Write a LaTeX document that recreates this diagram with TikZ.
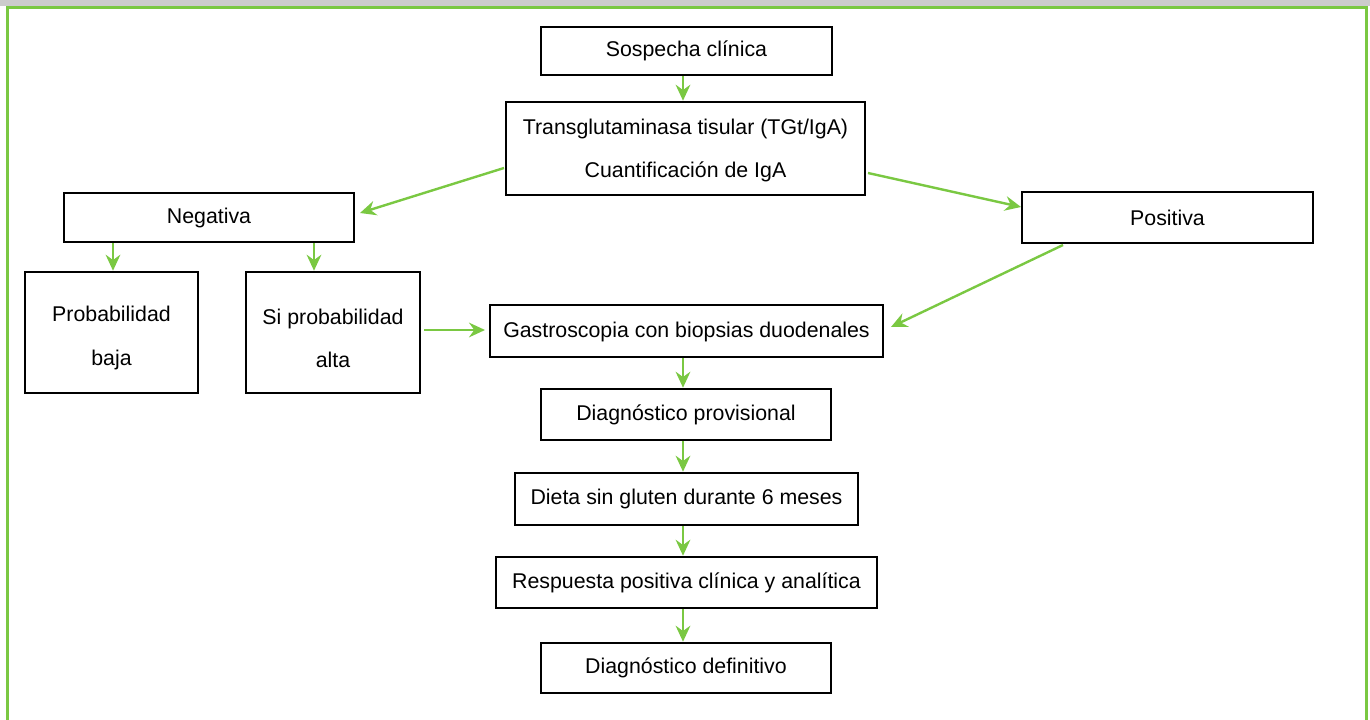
\documentclass[tikz,border=0pt]{standalone}
\usepackage{fontspec}
\setmainfont{Liberation Sans}
\usetikzlibrary{arrows.meta}
\definecolor{grn}{RGB}{122,200,66}
\definecolor{band}{RGB}{204,204,204}
\tikzset{
  box/.style={draw=black, line width=1.9pt, fill=white, align=center, inner sep=0pt, font=\fontsize{16}{32.5}\selectfont},
  arr/.style={draw=grn, line width=1.8pt, -{Stealth[length=12pt,width=11pt,inset=4pt]}},
}
\newcommand{\dropstrut}[1]{\rule{0pt}{#1}}
\begin{document}
\begin{tikzpicture}[x=0.75pt,y=-0.75pt]
\useasboundingbox (0,0) rectangle (1370,720);
\fill[band] (0,0) rectangle (1370,6);
\draw[grn, line width=2.2pt] (7.5,760) -- (7.5,7.5) -- (1366.5,7.5) -- (1366.5,760);
% boxes
\node[box, minimum width=291*0.75pt, minimum height=48*0.75pt] (sos) at (686.5,51) {Sospecha clínica};
\node[box, minimum width=359*0.75pt, minimum height=93*0.75pt] (tg) at (685.5,148.5) {\dropstrut{15pt}Transglutaminasa tisular (TGt/IgA)\\Cuantificación de IgA};
\node[box, minimum width=290*0.75pt, minimum height=49*0.75pt] (neg) at (209,217.5) {Negativa};
\node[box, minimum width=291*0.75pt, minimum height=51*0.75pt] (pos) at (1167.5,217.5) {Positiva};
\node[box, minimum width=173*0.75pt, minimum height=121*0.75pt] (baja) at (111.5,332.5) {\dropstrut{20pt}Probabilidad\\baja};
\node[box, minimum width=174*0.75pt, minimum height=121*0.75pt] (alta) at (333,332.5) {\dropstrut{20pt}Si probabilidad\\alta};
\node[box, minimum width=393*0.75pt, minimum height=52*0.75pt] (gas) at (686.5,331) {\dropstrut{13pt}Gastroscopia con biopsias duodenales};
\node[box, minimum width=290*0.75pt, minimum height=51*0.75pt] (prov) at (686,414.5) {Diagnóstico provisional};
\node[box, minimum width=343*0.75pt, minimum height=52*0.75pt] (dieta) at (686.5,499) {Dieta sin gluten durante 6 meses};
\node[box, minimum width=381*0.75pt, minimum height=51*0.75pt] (resp) at (686.5,582.5) {Respuesta positiva clínica y analítica};
\node[box, minimum width=290*0.75pt, minimum height=50*0.75pt] (def) at (686,668) {Diagnóstico definitivo};
% anchor coordinates
\coordinate (tgL) at (504,168);
\coordinate (negR) at (360,213);
\coordinate (tgR) at (868,173);
\coordinate (posL) at (1021,207);
\coordinate (posB) at (1063,245);
\coordinate (gasR) at (891,327);
\coordinate (altaR) at (424,330);
\coordinate (gasL) at (485,330);
\draw[arr] (sos.south -| 683,0) -- (tg.north -| 683,0);
\draw[arr] (tgL) -- (negR);
\draw[arr] (tgR) -- (posL);
\draw[arr] (neg.south -| 113,0) -- (baja.north -| 113,0);
\draw[arr] (neg.south -| 314,0) -- (alta.north -| 314,0);
\draw[arr] (posB) -- (gasR);
\draw[arr] (altaR) -- (gasL);
\draw[arr] (gas.south -| 683,0) -- (prov.north -| 683,0);
\draw[arr] (prov.south -| 683,0) -- (dieta.north -| 683,0);
\draw[arr] (dieta.south -| 683,0) -- (resp.north -| 683,0);
\draw[arr] (resp.south -| 683,0) -- (def.north -| 683,0);
\end{tikzpicture}
\end{document}
